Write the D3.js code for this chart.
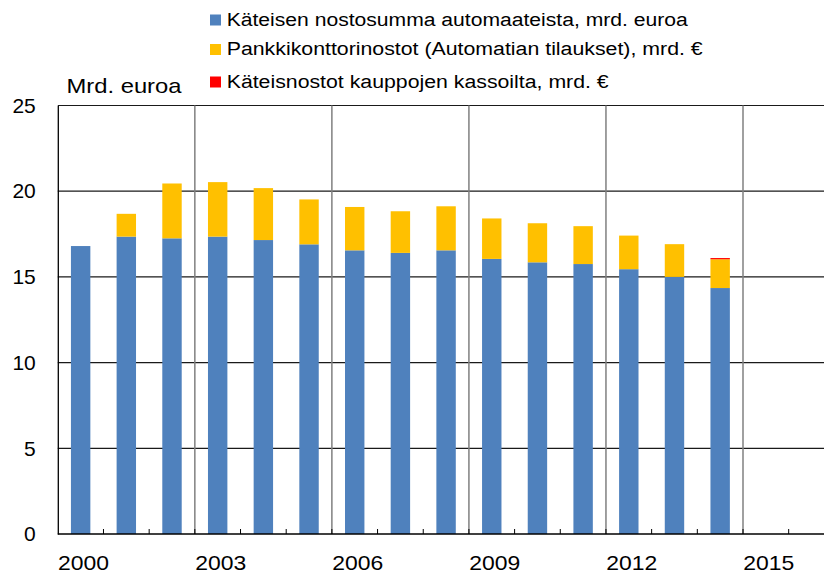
<!DOCTYPE html>
<html lang="fi">
<head>
    <meta charset="UTF-8">
    <script src="https://d3js.org/d3.v7.min.js"></script>
    <style>
        body { margin: 0; background: #fff; }
        text { font-family: Arial, "Liberation Sans", sans-serif; fill: #000; }
    </style>
</head>
<body>
    <svg id="chart" width="824" height="574"></svg>

    <script>
        // Vuodet (2015 ja 2016 ilman dataa)
        const years = ["2000", "2001", "2002", "2003", "2004", "2005", "2006", "2007", "2008",
                       "2009", "2010", "2011", "2012", "2013", "2014", "2015", "2016"];
        const labelYears = ["2000", "2003", "2006", "2009", "2012", "2015"];
        const gridYears = ["2003", "2006", "2009", "2012", "2015"];
        const yTicks = [0, 5, 10, 15, 20, 25];

        // Käteisen nostosumma automaateista, mrd. euroa
        const automaatit = [16.8, 17.35, 17.25, 17.35, 17.15, 16.9, 16.55, 16.4, 16.55,
                            16.05, 15.85, 15.75, 15.45, 15.0, 14.35];
        // Pankkikonttorinostot (Automatian tilaukset), mrd. €
        const konttorit = [0, 1.33, 3.2, 3.18, 3.03, 2.62, 2.53, 2.43, 2.57,
                           2.36, 2.28, 2.21, 1.96, 1.91, 1.68];
        // Käteisnostot kauppojen kassoilta, mrd. €
        const kassat = [0, 0, 0, 0, 0, 0, 0, 0, 0, 0, 0, 0, 0, 0, 0.07];

        const seriesNames = [
            "Käteisen nostosumma automaateista, mrd. euroa",
            "Pankkikonttorinostot (Automatian tilaukset), mrd. €",
            "Käteisnostot kauppojen kassoilta, mrd. €"
        ];
        const colors = ["#4F81BD", "#FFC000", "#FF0000"];

        const data = automaatit.map((v, i) => ({
            year: years[i],
            automaatit: v,
            konttorit: konttorit[i],
            kassat: kassat[i]
        }));

        const svg = d3.select("#chart");
        const margin = { top: 105.5, bottom: 534, left: 57.8 };

        const x = d3.scaleBand()
            .domain(years)
            .range([margin.left, margin.left + 45.68 * years.length])
            .padding(0);

        const y = d3.scaleLinear()
            .domain([0, 25])
            .range([margin.bottom, margin.top]);

        const barW = x.bandwidth() * 0.425;

        // Vaakasuorat apuviivat
        svg.append("g")
            .selectAll("line")
            .data(yTicks.filter(d => d > 0))
            .enter().append("line")
            .attr("x1", margin.left)
            .attr("x2", 824)
            .attr("y1", d => y(d))
            .attr("y2", d => y(d))
            .attr("stroke", "#1a1a1a")
            .attr("stroke-width", 1.2);

        // Pystysuorat apuviivat
        svg.append("g")
            .selectAll("line")
            .data(gridYears)
            .enter().append("line")
            .attr("x1", d => x(d))
            .attr("x2", d => x(d))
            .attr("y1", y(25))
            .attr("y2", y(0))
            .attr("stroke", "#808080")
            .attr("stroke-width", 1.5);

        // Pinotut pylväät
        const stack = d3.stack().keys(["automaatit", "konttorit", "kassat"]);
        const stacked = stack(data);

        svg.append("g")
            .selectAll("g")
            .data(stacked)
            .enter().append("g")
            .attr("fill", (d, i) => colors[i])
            .selectAll("rect")
            .data(d => d.filter(p => p[1] - p[0] > 0))
            .enter().append("rect")
            .attr("x", d => x(d.data.year) + (x.bandwidth() - barW) / 2)
            .attr("y", d => y(d[1]))
            .attr("width", barW)
            .attr("height", d => y(d[0]) - y(d[1]));

        // Y-akseli
        svg.append("g")
            .attr("transform", `translate(${margin.left},0)`)
            .call(d3.axisLeft(y).tickValues(yTicks).tickSize(0).tickPadding(22))
            .call(g => g.select(".domain").attr("stroke", "#000").attr("stroke-width", 1.3))
            .call(g => g.selectAll("text").style("font-size", "21px"));

        // X-akseli: perusviiva ja väliviivat
        const xAxis = svg.append("g");
        xAxis.append("line")
            .attr("x1", margin.left)
            .attr("x2", 824)
            .attr("y1", y(0))
            .attr("y2", y(0))
            .attr("stroke", "#000")
            .attr("stroke-width", 1.5);

        xAxis.selectAll(".tick")
            .data(years.slice(1))
            .enter().append("line")
            .attr("x1", d => x(d))
            .attr("x2", d => x(d))
            .attr("y1", y(0))
            .attr("y2", y(0) - 5)
            .attr("stroke", "#000")
            .attr("stroke-width", 1);

        xAxis.selectAll(".label")
            .data(labelYears)
            .enter().append("text")
            .attr("x", d => x(d) + x.bandwidth() / 2 + 3)
            .attr("y", 570)
            .attr("text-anchor", "middle")
            .style("font-size", "21px")
            .attr("textLength", 51)
            .attr("lengthAdjust", "spacingAndGlyphs")
            .text(d => d);

        // Yksikkö
        svg.append("text")
            .attr("x", 66.5)
            .attr("y", 93)
            .style("font-size", "21px")
            .attr("textLength", 115)
            .attr("lengthAdjust", "spacingAndGlyphs")
            .text("Mrd. euroa");

        // Selite
        const legendY = [25.5, 55, 87.5];
        const legendW = [461, 476, 382];
        const legend = svg.append("g")
            .selectAll("g")
            .data(seriesNames)
            .enter().append("g")
            .attr("transform", (d, i) => `translate(210,${legendY[i]})`);

        legend.append("rect")
            .attr("x", 0)
            .attr("y", -11)
            .attr("width", 11)
            .attr("height", 11)
            .attr("fill", (d, i) => colors[i]);

        legend.append("text")
            .attr("x", 16.7)
            .attr("y", 0)
            .style("font-size", "18px")
            .attr("textLength", (d, i) => legendW[i])
            .attr("lengthAdjust", "spacingAndGlyphs")
            .text(d => d);
    </script>
</body>
</html>
